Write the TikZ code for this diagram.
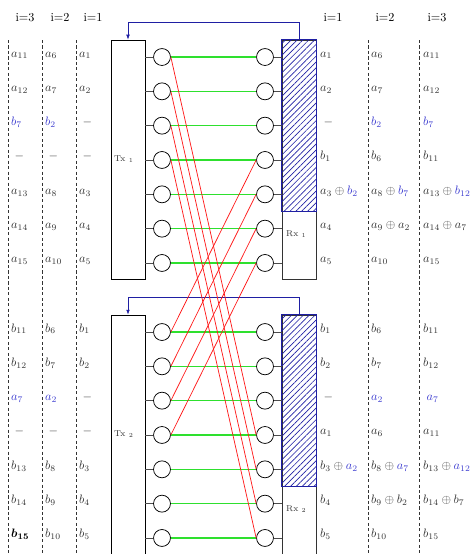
\documentclass[tikz,border=0pt]{standalone}
\usepackage{amsmath,amssymb}
\usepackage{bm}
\usetikzlibrary{arrows.meta,patterns.meta,positioning}
\definecolor{linkred}{HTML}{FF1A1A}
\definecolor{linkgreen}{HTML}{2EE02E}
\definecolor{fbblue}{HTML}{1F1FA3}
\definecolor{txtblue}{HTML}{3C3CD0}
\definecolor{labgray}{HTML}{333333}
\newcommand{\blu}[1]{\textcolor{txtblue}{#1}}

\begin{document}
\begin{tikzpicture}[x=0.82pt,y=-0.82pt,
      box/.style={draw, line width=0.6pt, minimum width=27.9pt, minimum height=196pt, inner sep=0pt},
      ant/.style={draw, circle, line width=0.6pt, minimum size=13.9pt, inner sep=0pt},
      stub/.style={draw=black!70, line width=0.7pt},
      direct/.style={draw=linkgreen, line width=0.9pt},
      cross/.style={draw=linkred, line width=0.6pt},
      fb/.style={draw=fbblue, line width=0.6pt, -{Latex[length=4pt,width=3pt]}},
      hatch/.style={draw=fbblue, line width=0.7pt, pattern={Lines[angle=45,distance=3.4pt,line width=0.55pt]}, pattern color=fbblue},
      sep/.style={draw=black!80, line width=0.6pt, dash pattern=on 2.5pt off 2pt},
      lab/.style={anchor=base west, inner sep=0pt, text=labgray},
      hd/.style={anchor=base, inner sep=0pt},
      tag/.style={anchor=west, inner sep=0pt, font=\scriptsize, text=labgray}]
    \useasboundingbox (0,0) rectangle (473,554);

    % column separators
    \foreach \x in {8,42,76,368,419}
      \draw[sep] (\x,40) -- (\x,554);
    \node[hd] (hl3) at (25,21.5) {i=3};
    \node[hd] (hl2) at (60,21.5) {i=2};
    \node[hd] (hl1) at (93,21.5) {i=1};
    \node[hd] (hr1) at (333,21.5) {i=1};
    \node[hd] (hr2) at (385,21.5) {i=2};
    \node[hd] (hr3) at (437,21.5) {i=3};

    % transmitters, receivers and antennas
    \foreach \b/\o in {1/0,2/275} {
      \node[box] (tx\b) at (128,159.5+\o) {};
      \node[box, draw=black!80] (rx\b) at (299,159.5+\o) {};
      \draw[hatch] (rx\b.north west) rectangle (316,211+\o);
      \node[tag] (txl\b) at (114,159+\o) {Tx $_{\b}$};
      \node[tag] (rxl\b) at (286,234+\o) {Rx $_{\b}$};
      \foreach \k in {1,...,7} {
        \node[ant] (t\b-\k) at (162,57+34.33*\k-34.33+\o) {};
        \node[ant] (r\b-\k) at (265,57+34.33*\k-34.33+\o) {};
        \draw[stub] (t\b-\k.west) -- (t\b-\k.west -| tx\b.east);
        \draw[stub] (r\b-\k.east) -- (r\b-\k.east -| rx\b.west);
        \draw[direct] (t\b-\k.east) -- (r\b-\k.west);
      }
      \draw[fb] (rx\b.north) -- ++(0,-17) -| (tx\b.north);
    }

    % cross links
    \foreach \k in {1,...,4} {
      \pgfmathtruncatemacro{\m}{\k+3}
      \draw[cross] (t1-\k.east) -- (r2-\m.west);
      \draw[cross] (t2-\k.east) -- (r1-\m.west);
    }

    % first link
    \foreach \t [count=\k] in {a_{11},a_{12},\blu{b_7},\;-,a_{13},a_{14},a_{15}}
      \node[lab] (al3-\k) at (11,57+34.33*\k-34.33) {$\t$};
    \foreach \t [count=\k] in {a_{6},a_{7},\blu{b_2},\;-,a_{8},a_{9},a_{10}}
      \node[lab] (al2-\k) at (45,57+34.33*\k-34.33) {$\t$};
    \foreach \t [count=\k] in {a_{1},a_{2},\;-,\;-,a_{3},a_{4},a_{5}}
      \node[lab] (al1-\k) at (79,57+34.33*\k-34.33) {$\t$};
    \foreach \t [count=\k] in {a_{1},a_{2},\;-,b_{1},a_3\oplus\blu{b_2},a_{4},a_{5}}
      \node[lab] (ar1-\k) at (320,57+34.33*\k-34.33) {$\t$};
    \foreach \t [count=\k] in {a_{6},a_{7},\blu{b_2},b_{6},a_8\oplus\blu{b_7},a_9\oplus a_2,a_{10}}
      \node[lab] (ar2-\k) at (371,57+34.33*\k-34.33) {$\t$};
    \foreach \t [count=\k] in {a_{11},a_{12},\blu{b_7},b_{11},a_{13}\oplus\blu{b_{12}},a_{14}\oplus a_7,a_{15}}
      \node[lab] (ar3-\k) at (423,57+34.33*\k-34.33) {$\t$};

    % second link
    \foreach \t [count=\k] in {b_{11},b_{12},\blu{a_7},\;-,b_{13},b_{14},{\color{black}\bm{b_{15}}}}
      \node[lab] (bl3-\k) at (11,332+34.33*\k-34.33) {$\t$};
    \foreach \t [count=\k] in {b_{6},b_{7},\blu{a_2},\;-,b_{8},b_{9},b_{10}}
      \node[lab] (bl2-\k) at (45,332+34.33*\k-34.33) {$\t$};
    \foreach \t [count=\k] in {b_{1},b_{2},\;-,\;-,b_{3},b_{4},b_{5}}
      \node[lab] (bl1-\k) at (79,332+34.33*\k-34.33) {$\t$};
    \foreach \t [count=\k] in {b_{1},b_{2},\;-,a_{1},b_3\oplus\blu{a_2},b_{4},b_{5}}
      \node[lab] (br1-\k) at (320,332+34.33*\k-34.33) {$\t$};
    \foreach \t [count=\k] in {b_{6},b_{7},\blu{a_2},a_{6},b_8\oplus\blu{a_7},b_9\oplus b_2,b_{10}}
      \node[lab] (br2-\k) at (371,332+34.33*\k-34.33) {$\t$};
    \foreach \t [count=\k] in {b_{11},b_{12},\;\blu{a_7},a_{11},b_{13}\oplus\blu{a_{12}},b_{14}\oplus b_7,b_{15}}
      \node[lab] (br3-\k) at (423,332+34.33*\k-34.33) {$\t$};
  \end{tikzpicture}
\end{document}
